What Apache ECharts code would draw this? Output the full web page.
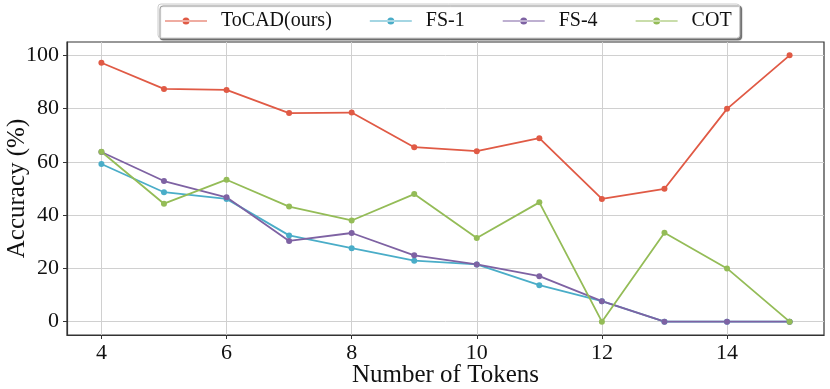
<!DOCTYPE html>
<html><head><meta charset="utf-8">
<script src="https://cdn.jsdelivr.net/npm/echarts@6/dist/echarts.min.js"></script>
<style>html,body{margin:0;padding:0;background:#fff}#c{width:830px;height:389px}</style>
</head><body><div id="c"></div>
<script>
const tokens = [4,5,6,7,8,9,10,11,12,13,14,15];
const tocad = [97.2,87.4,87.0,78.3,78.5,65.5,64.0,68.9,46.1,49.9,79.9,100];
const fs1 = [59.2,48.6,46.1,32.4,27.6,22.9,21.5,13.7,7.7,0,0,0];
const fs4 = [63.7,52.8,46.7,30.3,33.3,24.9,21.5,17.1,7.7,0,0,0];
const cot = [63.8,44.3,53.3,43.2,38.0,47.9,31.4,44.8,0,33.4,20.0,0];
const xTicks = [4,6,8,10,12,14];
const yTicks = [0,20,40,60,80,100];
const names = ['ToCAD(ours)','FS-1','FS-4','COT'];
const colors = ['#e05a45','#4aadc8','#7e62a3','#94bc57'];
const FONT = 'Liberation Serif';
const pair = arr => tokens.map((t,i)=>[t,arr[i]]);
const chart = echarts.init(document.getElementById('c'), null, {renderer:'canvas'});
chart.setOption({
  animation:false,
  color: colors,
  textStyle:{fontFamily:FONT},
  grid:{left:67,right:6,top:42,bottom:54,outerBoundsMode:'none',containLabel:false,show:true,borderColor:'#333',borderWidth:1.2,backgroundColor:'transparent'},
  legend:{
    left:158, top:4, itemWidth:42, itemHeight:7, itemGap:38,
    padding:[7,8,7,7],
    borderColor:'#ccc', borderWidth:1, borderRadius:3,
    backgroundColor:'#fff',
    shadowColor:'rgba(0,0,0,0.5)', shadowOffsetX:2, shadowOffsetY:2, shadowBlur:1,
    textStyle:{fontFamily:FONT,fontSize:20,color:'#111',padding:[0,0,0,9]},
    data: names.map(n=>({name:n,icon:'path://M0,4.4 L42,4.4 L42,5.6 L0,5.6 Z M17.5,5 A3.5,3.5 0 1,0 24.5,5 A3.5,3.5 0 1,0 17.5,5 Z'}))
  },
  xAxis:{
    type:'value', min:3.45, max:15.55,
    name:'Number of Tokens', nameLocation:'middle', nameGap:28, nameMoveOverlap:false,
    nameTextStyle:{fontFamily:FONT,fontSize:25,color:'#111',verticalAlign:'top'},
    axisLine:{show:true,onZero:false,lineStyle:{color:'#333',width:1.2}},
    axisTick:{show:true,length:4,customValues:xTicks,lineStyle:{color:'#333'}},
    axisLabel:{customValues:xTicks,fontFamily:FONT,fontSize:22,color:'#111',margin:7},
    splitLine:{show:true,lineStyle:{color:'#d0d0d0',width:1}}
  },
  yAxis:{
    type:'value', min:-5, max:105,
    name:'Accuracy (%)', nameLocation:'middle', nameGap:37, nameRotate:90, nameMoveOverlap:false,
    nameTextStyle:{fontFamily:FONT,fontSize:25,color:'#111'},
    axisLine:{show:true,onZero:false,lineStyle:{color:'#333',width:1.2}},
    axisTick:{show:true,length:4,customValues:yTicks,lineStyle:{color:'#333'}},
    axisLabel:{customValues:yTicks,fontFamily:FONT,fontSize:22,color:'#111',margin:8},
    splitLine:{show:true,lineStyle:{color:'#d0d0d0',width:1}}
  },
  series:[
    {name:names[0],data:pair(tocad)},
    {name:names[1],data:pair(fs1)},
    {name:names[2],data:pair(fs4)},
    {name:names[3],data:pair(cot)}
  ].map(s=>Object.assign(s,{type:'line',symbol:'circle',symbolSize:6,lineStyle:{width:1.8},z:2}))
});
</script></body></html>
